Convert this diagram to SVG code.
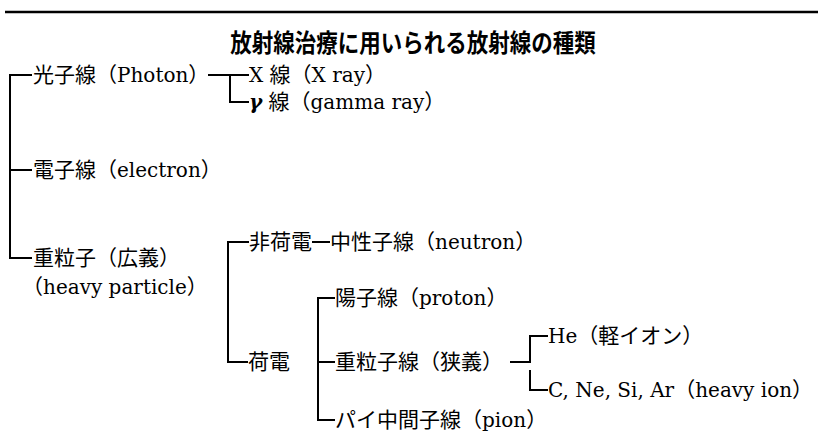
<svg xmlns="http://www.w3.org/2000/svg" width="823" height="447" viewBox="0 0 823 447">
<style>
.t{font-family:"DejaVu Serif","Noto Sans CJK JP",serif;font-size:20px;fill:#000}
.j{font-family:"Noto Sans CJK JP",sans-serif;font-size:21px}
.title{font-family:"Noto Sans CJK JP",sans-serif;font-size:21.5px;font-weight:bold;fill:#000}
.c{stroke:#000;stroke-width:2;fill:none}
</style>
<rect width="823" height="447" fill="#fff"/>
<line x1="5" y1="12" x2="818" y2="12" stroke="#000" stroke-width="2.5"/>
<text class="title" x="413" y="44" text-anchor="middle" transform="translate(0,44) scale(1,1.15) translate(0,-44)" dy="7">放射線治療に用いられる放射線の種類</text>
<g id="connectors">
<path class="c" d="M32,75 H10 V258 H32 M10,170 H32"/>
<path class="c" d="M208,75 H249 M230,75 V102 H249"/>
<path class="c" d="M249,242 H228 V362 H248"/>
<path class="c" d="M312,242 H330"/>
<path class="c" d="M335,298 H318 V420 H335 M318,362 H335"/>
<path class="c" d="M510,362 H530 V336 H548 M530,370 V390 H548"/>
</g>
<g id="photon"><text class="t" x="33" y="82"><tspan class="j">光子線（</tspan>Photon<tspan class="j">）</tspan></text></g>
<g id="xray"><text class="t" x="249" y="82">X <tspan class="j">線（</tspan>X ray<tspan class="j">）</tspan></text></g>
<g id="gamma"><text class="t" x="249" y="109"><tspan font-style="italic" font-weight="bold">γ</tspan> <tspan class="j">線（</tspan>gamma ray<tspan class="j">）</tspan></text></g>
<g id="electron"><text class="t" x="33" y="177"><tspan class="j">電子線（</tspan>electron<tspan class="j">）</tspan></text></g>
<g id="heavy"><text class="t" x="33" y="265"><tspan class="j">重粒子（広義）</tspan></text><text class="t" x="22" y="294"><tspan class="j">（</tspan>heavy particle<tspan class="j">）</tspan></text></g>
<g id="uncharged"><text class="t" x="249" y="249"><tspan class="j">非荷電</tspan></text></g>
<g id="neutron"><text class="t" x="330" y="249"><tspan class="j">中性子線（</tspan>neutron<tspan class="j">）</tspan></text></g>
<g id="charged"><text class="t" x="248" y="369"><tspan class="j">荷電</tspan></text></g>
<g id="proton"><text class="t" x="335" y="305"><tspan class="j">陽子線（</tspan>proton<tspan class="j">）</tspan></text></g>
<g id="heavyion"><text class="t" x="335" y="369"><tspan class="j">重粒子線（狭義）</tspan></text></g>
<g id="he"><text class="t" x="548" y="343">He<tspan class="j">（軽イオン）</tspan></text></g>
<g id="cnesiar"><text class="t" x="548" y="397">C, Ne, Si, Ar<tspan class="j">（</tspan>heavy ion<tspan class="j">）</tspan></text></g>
<g id="pion"><text class="t" x="335" y="427"><tspan class="j">パイ中間子線（</tspan>pion<tspan class="j">）</tspan></text></g>
</svg>
